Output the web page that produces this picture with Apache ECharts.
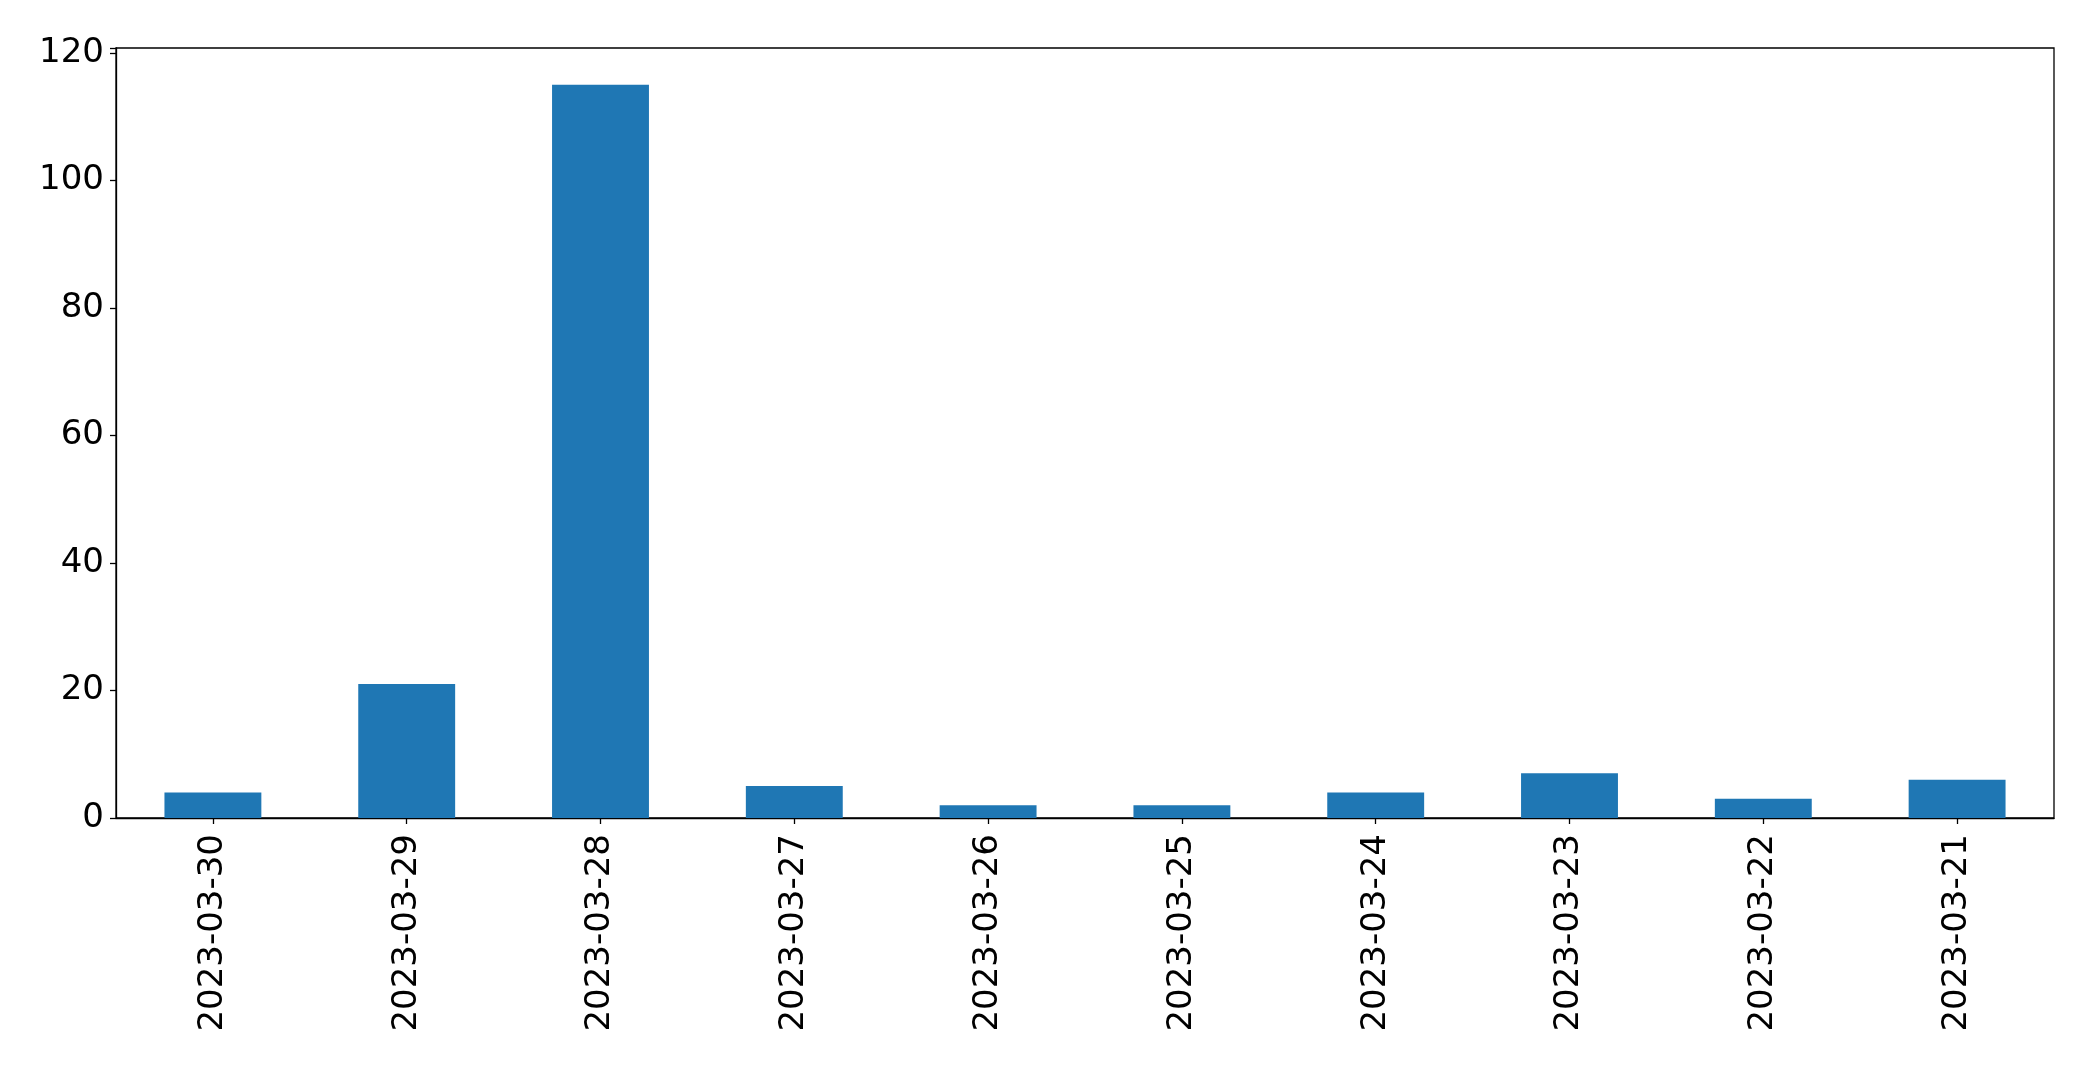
<!DOCTYPE html>
<html>
<head>
<meta charset="utf-8">
<script src="https://cdn.jsdelivr.net/npm/echarts@6/dist/echarts.min.js"></script>
<style>
html,body{margin:0;padding:0;background:#fff;}
#chart{width:2093px;height:1070px;}
</style>
</head>
<body>
<div id="chart"></div>
<script>
const categories = ['2023-03-30','2023-03-29','2023-03-28','2023-03-27','2023-03-26','2023-03-25','2023-03-24','2023-03-23','2023-03-22','2023-03-21'];
const values = [4, 21, 115, 5, 2, 2, 4, 7, 3, 6];
const yTicks = [0, 20, 40, 60, 80, 100, 120];

const chart = echarts.init(document.getElementById('chart'), null, {renderer:'canvas'});
const font = 'DejaVu Sans';
chart.setOption({
  animation: false,
  backgroundColor: '#fff',
  grid: {left: 116, right: 39, top: 48, bottom: 252, show: true, borderColor: '#000', borderWidth: 1.3, backgroundColor: 'transparent'},
  xAxis: {
    type: 'category',
    data: categories,
    boundaryGap: true,
    axisLine: {show: true, lineStyle: {color: '#000', width: 1.3}},
    axisTick: {show: true, alignWithLabel: true, length: 6, lineStyle: {color: '#000', width: 1.3}},
    axisLabel: {rotate: 90, margin: 16, color: '#000', fontSize: 34, fontFamily: font, interval: 0},
    splitLine: {show: false}
  },
  yAxis: {
    type: 'value',
    min: 0,
    max: 120.75,
    interval: 20,
    axisLine: {show: true, lineStyle: {color: '#000', width: 1.3}},
    axisTick: {show: true, length: 6, lineStyle: {color: '#000', width: 1.3}},
    axisLabel: {margin: 12, color: '#000', fontSize: 34, fontFamily: font,
      formatter: v => yTicks.includes(v) ? String(v) : ''},
    splitLine: {show: false}
  },
  series: [{
    type: 'bar',
    data: values,
    barWidth: '50%',
    itemStyle: {color: '#1f77b4'}
  }]
});
</script>
</body>
</html>
